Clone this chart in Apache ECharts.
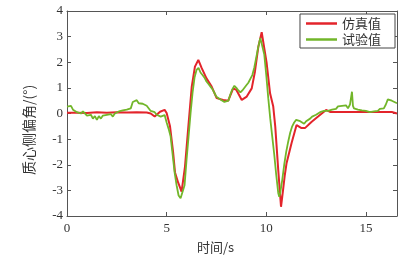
<!DOCTYPE html>
<html><head><meta charset="utf-8">
<script src="https://cdn.jsdelivr.net/npm/echarts@6/dist/echarts.min.js"></script>
<style>html,body{margin:0;padding:0;background:#fff}#c{width:417px;height:264px}</style>
</head><body><div id="c"></div>
<script>
const seriesNames = ['仿真值', '试验值'];
const xTicks = [0, 5, 10, 15];
const yTicks = [-4, -3, -2, -1, 0, 1, 2, 3, 4];
const xTitle = '时间/s';
const yTitle = '质心侧偏角/(°)';

const simTime = [0,0.5,1.0,1.5,2.0,2.5,3.0,3.5,4.0,4.2,4.4,4.67,4.9,5.0,5.17,5.33,5.42,5.58,5.75,5.92,6.09,6.26,6.42,6.59,6.76,7.0,7.26,7.51,7.84,8.09,8.34,8.5,8.77,9.02,9.27,9.43,9.6,9.77,9.85,10.02,10.19,10.35,10.45,10.6,10.74,10.84,10.93,11.02,11.27,11.52,11.77,11.94,12.28,12.6,13.0,13.2,14.0,15.0,16.0,16.3,16.4,16.56];
const simVals = [0.03,0.03,0.02,0.05,0.03,0.05,0.04,0.05,0.04,0.0,-0.12,0.07,0.14,0.02,-0.5,-1.55,-2.3,-2.7,-3.05,-2.08,-0.5,1.05,1.83,2.09,1.77,1.37,1.05,0.6,0.53,0.5,0.98,0.92,0.53,0.66,0.98,1.63,2.6,3.17,3.13,1.96,0.79,0.27,-0.5,-2.2,-3.64,-3.0,-2.4,-1.93,-1.15,-0.45,-0.57,-0.57,-0.32,-0.12,0.14,0.06,0.06,0.06,0.06,0.06,0.0,0.0];

const testTime = [0,0.1,0.2,0.3,0.4,0.5,0.6,0.7,0.8,0.9,1.0,1.1,1.2,1.3,1.4,1.5,1.6,1.7,1.8,1.9,2.0,2.1,2.2,2.3,2.4,2.5,2.6,2.7,2.8,2.9,3.0,3.1,3.2,3.3,3.4,3.5,3.6,3.7,3.8,3.9,4.0,4.1,4.2,4.3,4.4,4.5,4.6,4.7,4.8,4.9,5.0,5.1,5.2,5.3,5.4,5.5,5.6,5.7,5.8,5.9,6.0,6.1,6.2,6.3,6.4,6.5,6.6,6.7,6.8,6.9,7.0,7.1,7.2,7.3,7.4,7.5,7.6,7.7,7.8,7.9,8.0,8.1,8.2,8.3,8.4,8.5,8.6,8.7,8.8,8.9,9.0,9.1,9.2,9.3,9.4,9.5,9.6,9.7,9.75,9.8,9.9,10.0,10.1,10.2,10.3,10.4,10.5,10.6,10.65,10.7,10.8,10.9,11.0,11.1,11.2,11.3,11.4,11.5,11.6,11.7,11.8,11.9,12.0,12.1,12.2,12.3,12.4,12.5,12.6,12.7,12.8,12.9,13.0,13.1,13.2,13.3,13.4,13.5,13.6,13.7,13.8,13.9,14.0,14.1,14.2,14.3,14.35,14.4,14.5,14.6,14.7,14.8,14.9,15.0,15.1,15.2,15.3,15.4,15.5,15.6,15.7,15.8,15.9,16.0,16.1,16.2,16.3,16.4,16.56];
const testVals = [0.27,0.2,0.3,0.15,0.22,0.05,0.1,0.0,0.08,0.03,-0.08,-0.15,-0.05,-0.2,-0.1,-0.25,-0.1,-0.2,-0.08,-0.12,-0.05,-0.1,-0.02,-0.12,0.0,-0.05,0.08,0.02,0.12,0.06,0.15,0.12,0.2,0.45,0.38,0.52,0.4,0.42,0.38,0.33,0.3,0.25,0.1,0.07,0.05,-0.05,-0.1,-0.12,-0.08,-0.06,-0.35,-0.6,-0.9,-1.6,-2.3,-2.8,-3.2,-3.31,-3.25,-2.8,-1.8,-0.9,0.0,0.8,1.4,1.7,1.78,1.6,1.5,1.4,1.25,1.15,1.05,0.95,0.8,0.65,0.6,0.55,0.5,0.45,0.4,0.5,0.75,0.95,1.08,1.0,0.9,0.82,0.9,0.95,1.1,1.2,1.35,1.5,1.8,2.2,2.6,2.95,3.0,2.9,2.3,1.5,0.6,-0.2,-0.9,-1.6,-2.4,-3.1,-3.25,-3.1,-2.6,-2.0,-1.5,-1.1,-0.75,-0.5,-0.35,-0.25,-0.22,-0.3,-0.35,-0.4,-0.3,-0.28,-0.2,-0.12,-0.15,-0.05,-0.08,0.05,0.0,0.1,0.08,0.1,0.08,0.15,0.2,0.18,0.28,0.22,0.3,0.25,0.32,0.2,0.35,0.85,0.3,0.2,0.18,0.15,0.2,0.12,0.16,0.1,0.15,0.05,0.12,0.08,0.15,0.1,0.18,0.12,0.2,0.35,0.55,0.6,0.5,0.45,0.4];

const pair = (t, v) => t.map((x, i) => [x, v[i]]);
const serif = '"Liberation Serif","Times New Roman",serif';
const cjk = '"Noto Sans CJK SC",sans-serif';
const axisCol = '#555';
const txtCol = '#333';

const xBase = {
  type: 'value', min: 0, max: 16.56, interval: 5,
  axisLine: {show: true, onZero: false, lineStyle: {color: axisCol, width: 1}},
  axisTick: {show: true, inside: true, length: 4, lineStyle: {color: axisCol}},
  splitLine: {show: false}
};
const yBase = {
  type: 'value', min: -4, max: 4, interval: 1,
  axisLine: {show: true, onZero: false, lineStyle: {color: axisCol, width: 1}},
  axisTick: {show: true, inside: true, length: 4, lineStyle: {color: axisCol}},
  splitLine: {show: false}
};

const chart = echarts.init(document.getElementById('c'), null, {renderer: 'canvas'});
chart.setOption({
  animation: false,
  backgroundColor: '#fff',
  grid: {left: 67, right: 20, top: 11, bottom: 48},
  xAxis: [
    Object.assign({}, xBase, {position: 'bottom',
      axisLabel: {show: true, margin: 6, color: txtCol, fontFamily: serif, fontSize: 13, showMaxLabel: false,
        formatter: v => xTicks.includes(v) ? String(v) : ''}}),
    Object.assign({}, xBase, {position: 'top', axisLabel: {show: false}})
  ],
  yAxis: [
    Object.assign({}, yBase, {position: 'left',
      axisLabel: {show: true, margin: 4, color: txtCol, fontFamily: serif, fontSize: 13,
        formatter: v => yTicks.includes(v) ? String(v) : ''}}),
    Object.assign({}, yBase, {position: 'right', axisLabel: {show: false}})
  ],
  legend: {
    orient: 'vertical', right: 22, top: 14,
    backgroundColor: '#fff', borderColor: '#444', borderWidth: 1,
    padding: [3, 14, 2, 6], itemGap: 3,
    itemWidth: 31, itemHeight: 2.5, icon: 'rect',
    textStyle: {fontFamily: cjk, fontSize: 13, color: txtCol},
    data: seriesNames
  },
  graphic: [
    {type: 'text', left: 197, top: 241, style: {text: xTitle, fontFamily: cjk, fontSize: 13, fill: txtCol}},
    {type: 'text', x: 22, y: 175, rotation: Math.PI / 2,
      style: {text: yTitle, fontFamily: cjk, fontSize: 14, fill: txtCol}}
  ],
  series: [
    {name: seriesNames[0], type: 'line', data: pair(simTime, simVals), showSymbol: false,
      lineStyle: {color: '#e3242b', width: 2}, itemStyle: {color: '#e3242b'}},
    {name: seriesNames[1], type: 'line', data: pair(testTime, testVals), showSymbol: false,
      lineStyle: {color: '#72b62a', width: 1.8}, itemStyle: {color: '#72b62a'}}
  ]
});
</script></body></html>
